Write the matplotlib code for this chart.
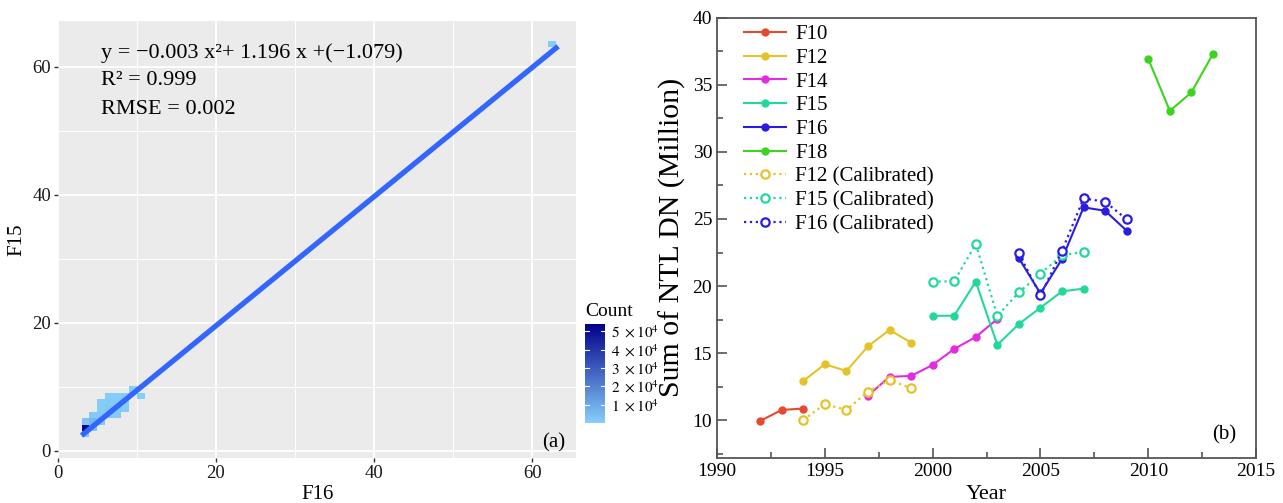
import numpy as np
import matplotlib
matplotlib.use("Agg")
import matplotlib.pyplot as plt
from matplotlib.colors import LinearSegmentedColormap

plt.rcParams['font.family'] = ['Liberation Serif', 'DejaVu Serif']
plt.rcParams['mathtext.fontset'] = 'stix'

# ---- panel (a): F16 vs F15 binned counts ----
cell_x = [3.5, 3.5, 4.5, 3.5, 4.5, 5.5,
          4.5, 5.5, 6.5, 7.5,
          5.5, 6.5, 7.5, 8.5,
          5.5, 6.5, 7.5, 8.5,
          6.5, 7.5, 8.5, 10.5,
          9.5, 62.5]
cell_y = [2.6, 3.6, 3.6, 4.6, 4.6, 4.6,
          5.6, 5.6, 5.6, 5.6,
          6.6, 6.6, 6.6, 6.6,
          7.6, 7.6, 7.6, 7.6,
          8.6, 8.6, 8.6, 8.6,
          9.6, 63.6]
cell_n = [1500, 52000, 2500, 3000, 6000, 1200,
          1500, 1800, 1400, 900,
          800, 1500, 1200, 700,
          700, 900, 1000, 800,
          600, 800, 900, 500,
          600, 700]

fit_x = [3.0, 63.3]
fit_y = [2.4, 63.2]

eq_text = "y = \u22120.003 x\u00b2+ 1.196 x +(\u22121.079)"
r2_text = "R\u00b2 = 0.999"
rmse_text = "RMSE = 0.002"

# ---- panel (b): yearly sums ----
yr_f10 = [1992, 1993, 1994]
f10 = [9.96, 10.78, 10.88]
yr_f12 = [1994, 1995, 1996, 1997, 1998, 1999]
f12 = [12.94, 14.18, 13.68, 15.52, 16.73, 15.79]
f12_cal = [10.04, 11.21, 10.78, 12.14, 13.00, 12.40]
yr_f14 = [1997, 1998, 1999, 2000, 2001, 2002, 2003]
f14 = [11.85, 13.24, 13.31, 14.13, 15.32, 16.21, 17.55]
yr_f15 = [2000, 2001, 2002, 2003, 2004, 2005, 2006, 2007]
f15 = [17.78, 17.80, 20.33, 15.62, 17.18, 18.39, 19.61, 19.81]
f15_cal = [20.33, 20.36, 23.13, 17.78, 19.54, 20.92, 22.30, 22.54]
yr_f16 = [2004, 2005, 2006, 2007, 2008, 2009]
f16 = [22.07, 19.45, 22.02, 25.86, 25.61, 24.12]
f16_cal = [22.44, 19.30, 22.63, 26.53, 26.28, 24.97]
yr_f18 = [2010, 2011, 2012, 2013]
f18 = [36.92, 33.05, 34.42, 37.29]

c10 = '#e64a2e'
c12 = '#e6c229'
c14 = '#e52ae0'
c15 = '#22d99a'
c16 = '#2b1de0'
c18 = '#3dd41e'

fig = plt.figure(figsize=(12.83, 5.03), dpi=100)

# left panel, ggplot-like
ax1 = fig.add_axes([0.0451, 0.0895, 0.4041, 0.8694])
ax1.set_facecolor('#EBEBEB')
for s in ax1.spines.values():
    s.set_visible(False)

cmap = LinearSegmentedColormap.from_list('cnt', ['#87CEFA', '#00008B'])
x_edges = np.arange(3.0, 64.5, 1.0)
y_edges = np.arange(2.1, 65.5, 1.0)
h = ax1.hist2d(cell_x, cell_y, bins=[x_edges, y_edges], weights=cell_n,
               cmap=cmap, cmin=1, vmin=1, vmax=54000, zorder=2)

ax1.plot(fit_x, fit_y, color='#3366FF', lw=3.8, solid_capstyle='butt', zorder=3)

ax1.set_xlim(0.15, 65.6)
ax1.set_ylim(-1.1, 67.2)
ax1.set_xticks([0, 20, 40, 60])
ax1.set_yticks([0, 20, 40, 60])
ax1.set_xticks([10, 30, 50], minor=True)
ax1.set_yticks([10, 30, 50], minor=True)
ax1.grid(which='major', color='white', lw=1.3)
ax1.grid(which='minor', color='white', lw=0.7)
ax1.set_axisbelow(True)
ax1.tick_params(which='major', length=3, width=1, color='#333333',
                labelsize=13.5, labelcolor='#1a1a1a', pad=2)
ax1.tick_params(which='minor', length=0)

ax1.text(5.4, 62.2, eq_text, fontsize=16, va='center', ha='left')
ax1.text(5.4, 57.8, r2_text, fontsize=16, va='center', ha='left')
ax1.text(5.4, 53.3, rmse_text, fontsize=16, va='center', ha='left')
ax1.text(64.2, 1.3, "(a)", fontsize=15, ha='right', va='center')

ax1.set_xlabel("F16", fontsize=15, labelpad=2)
ax1.set_ylabel("F15", fontsize=15, labelpad=4)

# colorbar
cax = fig.add_axes([0.456, 0.159, 0.0156, 0.197])
cb = fig.colorbar(h[3], cax=cax)
cb.outline.set_visible(False)
cb_ticks = [10000, 20000, 30000, 40000, 50000]
cb.set_ticks(cb_ticks)
cb.set_ticklabels([r"$%d\ \times 10^{4}$" % (v // 10000) for v in cb_ticks])
cax.tick_params(length=0, labelsize=11, pad=4)
for v in cb_ticks:
    cax.axhline(v, xmin=0, xmax=0.2, color='white', lw=0.8)
    cax.axhline(v, xmin=0.8, xmax=1, color='white', lw=0.8)
cax.set_title("Count", fontsize=14, loc='left', pad=6)

# right panel
ax2 = fig.add_axes([0.5589, 0.0895, 0.4201, 0.8757])
ax2.plot(yr_f10, f10, '-o', color=c10, ms=5, lw=1.5, label='F10')
ax2.plot(yr_f12, f12, '-o', color=c12, ms=5, lw=1.5, label='F12')
ax2.plot(yr_f14, f14, '-o', color=c14, ms=5, lw=1.5, label='F14')
ax2.plot(yr_f15, f15, '-o', color=c15, ms=5, lw=1.5, label='F15')
ax2.plot(yr_f16, f16, '-o', color=c16, ms=5, lw=1.5, label='F16')
ax2.plot(yr_f18, f18, '-o', color=c18, ms=5, lw=1.5, label='F18')
ax2.plot(yr_f12, f12_cal, ':o', color=c12, ms=6, mfc='white', mew=1.6, lw=1.6,
         label='F12 (Calibrated)')
ax2.plot(yr_f15, f15_cal, ':o', color=c15, ms=6, mfc='white', mew=1.6, lw=1.6,
         label='F15 (Calibrated)')
ax2.plot(yr_f16, f16_cal, ':o', color=c16, ms=6, mfc='white', mew=1.6, lw=1.6,
         label='F16 (Calibrated)')

ax2.set_xlim(1990, 2015)
ax2.set_ylim(7.2, 40)
ax2.set_xticks(np.arange(1990, 2016, 5))
ax2.set_xticks(np.arange(1992.5, 2015, 5), minor=True)
ax2.set_yticks(np.arange(10, 41, 5))
ax2.set_yticks(np.arange(7.5, 40, 5), minor=True)
ax2.tick_params(which='major', direction='in', length=7, width=1.2,
                color='#555555', labelsize=14, top=False, right=False)
ax2.tick_params(which='minor', direction='in', length=4, width=1.2,
                color='#555555', top=False, right=False)
for s in ax2.spines.values():
    s.set_color('#555555')
    s.set_linewidth(1.3)
ax2.set_xlabel("Year", fontsize=16, labelpad=4)
ax2.set_ylabel("Sum of NTL DN (Million)", fontsize=21.5, labelpad=5)
ax2.text(2014.1, 8.9, "(b)", fontsize=15, ha='right', va='center')

ax2.legend(loc='upper left', bbox_to_anchor=(0.035, 1.003), frameon=False,
           fontsize=15, handlelength=2.0, handletextpad=0.45,
           labelspacing=0.2, borderaxespad=0)

fig.savefig("out.png", dpi=100)
